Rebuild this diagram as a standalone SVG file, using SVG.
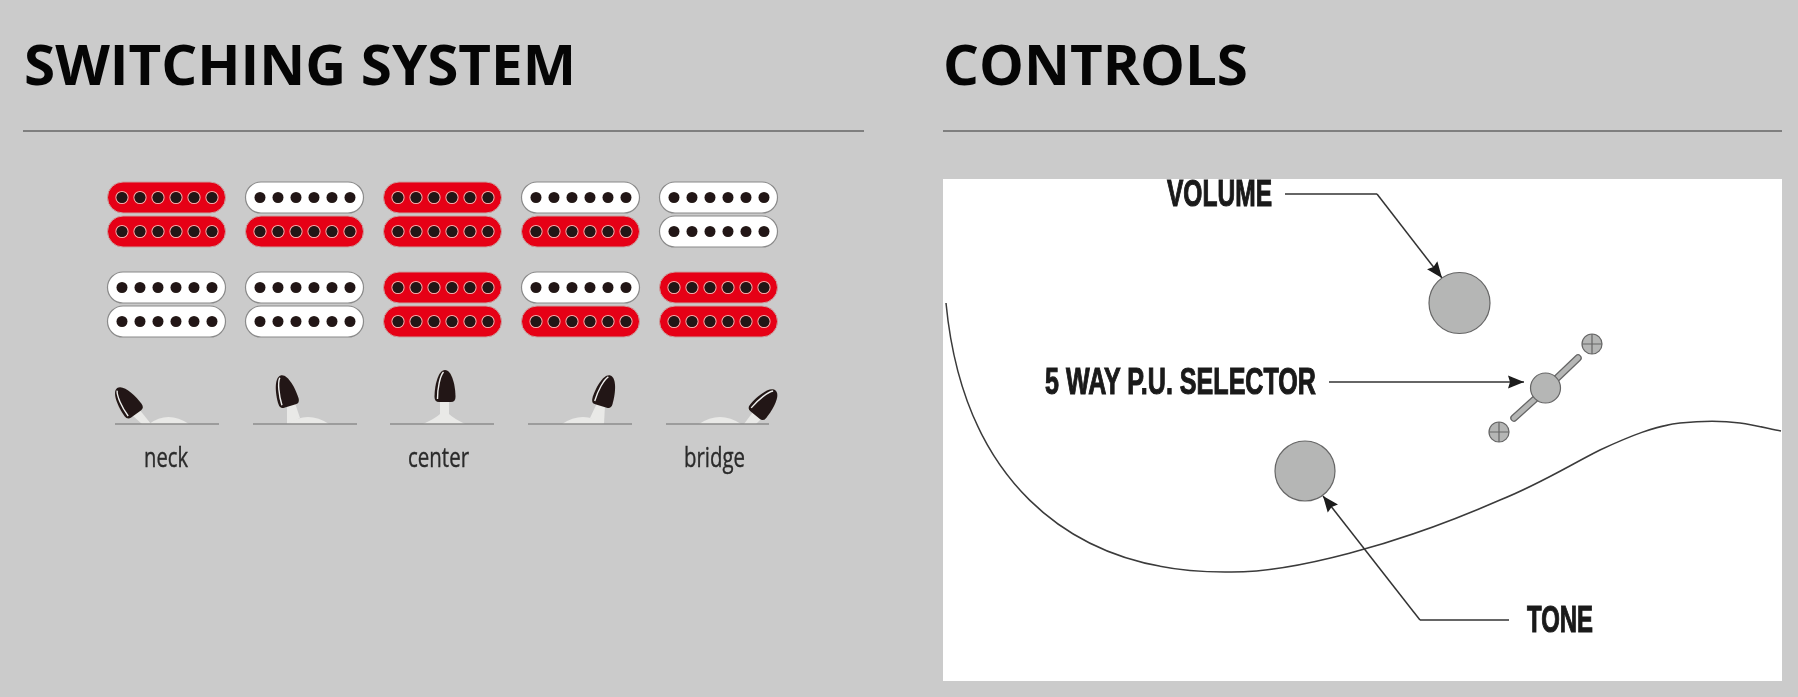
<svg xmlns="http://www.w3.org/2000/svg" width="1798" height="697" viewBox="0 0 1798 697">
<style>
.h{font-family:"Open Sans","Liberation Sans",sans-serif;font-weight:700;font-size:56px;fill:#050505}
.pos{font-family:"Open Sans","Liberation Sans",sans-serif;font-size:28px;fill:#2b2b2b;stroke:#2b2b2b;stroke-width:.4}
.call{font-family:"Liberation Sans",Arial,sans-serif;font-weight:700;font-size:37px;fill:#1a1a1a;stroke:#1a1a1a;stroke-width:1.100}
.rule{stroke:#666;stroke-width:1.500}
.base{stroke:#8c8c8c;stroke-width:1.600}
.lead{fill:none;stroke:#666;stroke-width:1.800}
.lead2{fill:none;stroke:#333;stroke-width:1.500}
.knob{fill:#b5b6b5;stroke:#666;stroke-width:1.200}
.stem{fill:#e9e9e7}
</style>
<defs>
<filter id="soft" x="-5%" y="-5%" width="110%" height="110%"><feGaussianBlur stdDeviation="0.6"/></filter>
<marker id="arr" markerUnits="userSpaceOnUse" markerWidth="16" markerHeight="14" refX="16" refY="7" orient="auto"><path d="M0,0.500L16,7L0,13.500L2,7Z" fill="#1a1a1a"/></marker>
<g id="poles" fill="#231815">
<circle cx="14.500" cy="15.500" r="5.500"/><circle cx="32.500" cy="15.500" r="5.500"/><circle cx="50.500" cy="15.500" r="5.500"/><circle cx="68.500" cy="15.500" r="5.500"/><circle cx="86.500" cy="15.500" r="5.500"/><circle cx="104.500" cy="15.500" r="5.500"/>
</g>
<g id="rings" fill="none" stroke="#eeb0b0" stroke-width="1.200">
<circle cx="14.500" cy="15.500" r="6"/><circle cx="32.500" cy="15.500" r="6"/><circle cx="50.500" cy="15.500" r="6"/><circle cx="68.500" cy="15.500" r="6"/><circle cx="86.500" cy="15.500" r="6"/><circle cx="104.500" cy="15.500" r="6"/>
</g>
<g id="w"><rect x="0" y="0" width="118" height="31" rx="15.500" fill="#fff" stroke="#8a8a8a" stroke-width="1.200"/><use href="#poles"/></g>
<g id="r"><rect x="0" y="0" width="118" height="31" rx="15.500" fill="#e60012" stroke="#c9a0a0" stroke-width="1"/><use href="#rings"/><use href="#poles"/></g>
<g id="k"><path d="M-10.500,-5C-10.500,-16 -7,-32 0,-32C7,-32 10.500,-16 10.500,-5Q10.500,0 6,0H-6Q-10.500,0 -10.500,-5Z" fill="#231815"/><path d="M-7.500,-3C-7.500,-14 -5,-26 -1.500,-30" fill="none" stroke="#eee" stroke-width="1.400"/></g>
</defs>
<rect width="1798" height="697" fill="#cbcbcb"/>

<g id="switching-heading"><text class="h" x="24" y="85" textLength="552" lengthAdjust="spacingAndGlyphs">SWITCHING SYSTEM</text><line class="rule" x1="23" y1="131" x2="864" y2="131"/></g>
<g id="controls-heading"><text class="h" x="943" y="85" textLength="305" lengthAdjust="spacingAndGlyphs">CONTROLS</text><line class="rule" x1="943" y1="131" x2="1782" y2="131"/></g>

<g filter="url(#soft)">
<g id="pos1-pickups"><use href="#r" x="107.500" y="182"/><use href="#r" x="107.500" y="216"/><use href="#w" x="107.500" y="272"/><use href="#w" x="107.500" y="306"/></g>
<g id="pos2-pickups"><use href="#w" x="245.500" y="182"/><use href="#r" x="245.500" y="216"/><use href="#w" x="245.500" y="272"/><use href="#w" x="245.500" y="306"/></g>
<g id="pos3-pickups"><use href="#r" x="383.500" y="182"/><use href="#r" x="383.500" y="216"/><use href="#r" x="383.500" y="272"/><use href="#r" x="383.500" y="306"/></g>
<g id="pos4-pickups"><use href="#w" x="521.500" y="182"/><use href="#r" x="521.500" y="216"/><use href="#w" x="521.500" y="272"/><use href="#r" x="521.500" y="306"/></g>
<g id="pos5-pickups"><use href="#w" x="659.500" y="182"/><use href="#w" x="659.500" y="216"/><use href="#r" x="659.500" y="272"/><use href="#r" x="659.500" y="306"/></g>

<g id="toggle-neck">
<path class="stem" d="M149,424Q168,410 189,424Z"/><path class="stem" d="M132,415L139,409L151,424H142Z"/>
<line class="base" x1="115" y1="424" x2="219" y2="424"/>
<use href="#k" transform="translate(136,414) rotate(-36)"/>
</g>
<g id="toggle-2">
<path class="stem" d="M287,424Q308,410 329,424Z"/><path class="stem" d="M287,405L295,403L300,418L287,424Z"/>
<line class="base" x1="253" y1="424" x2="357" y2="424"/>
<use href="#k" transform="translate(290,406) rotate(-17)"/>
</g>
<g id="toggle-center">
<path class="stem" d="M423,424Q436,418 440,414V400H449V414Q453,418 465,424Z"/>
<line class="base" x1="390" y1="424" x2="494" y2="424"/>
<use href="#k" transform="translate(445,402)"/>
</g>
<g id="toggle-4">
<path class="stem" d="M562,424Q583,410 604,424Z"/><path class="stem" d="M597,403L605,405L604,424L590,418Z"/>
<line class="base" x1="528" y1="424" x2="632" y2="424"/>
<use href="#k" transform="translate(601,406) rotate(17)"/>
</g>
<g id="toggle-bridge">
<path class="stem" d="M699,424Q720,410 741,424Z"/><path class="stem" d="M744,424L753,412L762,418L756,424Z"/>
<line class="base" x1="666" y1="424" x2="769" y2="424"/>
<use href="#k" transform="translate(755,415) rotate(40)"/>
</g>
</g>

<g id="label-neck"><text class="pos" x="144" y="467" textLength="44" lengthAdjust="spacingAndGlyphs">neck</text></g>
<g id="label-center"><text class="pos" x="408" y="467" textLength="61" lengthAdjust="spacingAndGlyphs">center</text></g>
<g id="label-bridge"><text class="pos" x="684" y="467" textLength="61" lengthAdjust="spacingAndGlyphs">bridge</text></g>

<g id="controls-panel"><rect x="943" y="179" width="839" height="502" fill="#fff"/></g>
<g id="body-outline"><path d="M946,303C962,470 1060,572 1225,572C1290,574 1400,544 1500,500C1540,484 1570,465 1600,450C1630,436 1655,426 1680,423C1700,421 1725,421 1740,423C1755,425 1770,429 1781,431" fill="none" stroke="#3a3a3a" stroke-width="1.500" filter="url(#soft)"/></g>

<g id="connectors" filter="url(#soft)">
<path class="lead" d="M1285,194H1377"/><path class="lead2" d="M1377,194L1442,278" marker-end="url(#arr)"/>
<path class="lead" d="M1329,382H1524" marker-end="url(#arr)"/>
<path class="lead" d="M1509,620H1420"/><path class="lead2" d="M1420,620L1323,496" marker-end="url(#arr)"/>
</g>

<g id="volume" filter="url(#soft)"><circle class="knob" cx="1459.500" cy="303" r="30.500"/></g>
<g id="tone" filter="url(#soft)"><circle class="knob" cx="1305" cy="471" r="30"/></g>
<g id="selector" filter="url(#soft)">
<path d="M1556,379L1578,358M1535,399L1514,418" stroke="#666" stroke-width="7.500" stroke-linecap="round"/>
<path d="M1556,379L1578,358M1535,399L1514,418" stroke="#b5b6b5" stroke-width="5" stroke-linecap="round"/>
<circle class="knob" cx="1545.500" cy="388" r="15"/>
<g fill="#b5b6b5" stroke="#666" stroke-width="1.200"><circle cx="1592" cy="344" r="10"/><circle cx="1499" cy="432" r="10"/></g>
<path d="M1582,344H1602M1592,334V354M1489,432H1509M1499,422V442" stroke="#666" stroke-width="1.200"/>
</g>

<g id="label-volume"><text class="call" x="1167" y="206" textLength="105" lengthAdjust="spacingAndGlyphs">VOLUME</text></g>
<g id="label-selector"><text class="call" x="1045" y="394" textLength="271" lengthAdjust="spacingAndGlyphs">5 WAY P.U. SELECTOR</text></g>
<g id="label-tone"><text class="call" x="1527" y="632" textLength="66" lengthAdjust="spacingAndGlyphs">TONE</text></g>
</svg>
